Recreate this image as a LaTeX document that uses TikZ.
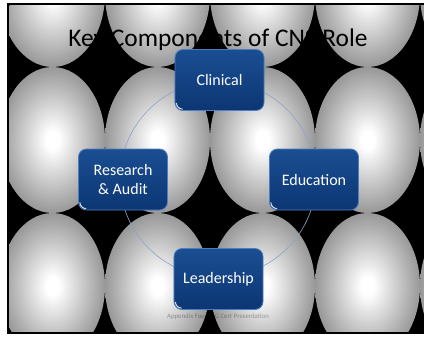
\documentclass[tikz,border=0pt]{standalone}
\usepackage{fontspec}
\setmainfont{Carlito}
\definecolor{sphgray}{HTML}{989898}
\definecolor{boxtop}{HTML}{1A4E92}
\definecolor{boxbot}{HTML}{0C3673}
\definecolor{boxedge}{HTML}{4E7DBD}
\definecolor{ringcol}{HTML}{8DA3C4}
\definecolor{footcol}{HTML}{AEAEAE}
\pgfdeclareradialshading{sphere}{\pgfpoint{0bp}{0bp}}{color(0bp)=(white); color(3bp)=(white); color(25bp)=(sphgray); color(50bp)=(sphgray)}
\tikzset{
  ball/.style={shading=sphere},
  compbox/.style={rectangle, rounded corners=8bp, minimum width=89bp, minimum height=61bp,
    top color=boxtop, bottom color=boxbot, draw=boxedge, line width=0.8bp,
    text=white, align=center, font=\fontsize{16bp}{18.5bp}\selectfont},
  ring/.style={draw=ringcol, line width=0.6bp},
  gloss/.style={draw=white!75!boxedge, line width=1bp},
}
\begin{document}
\begin{tikzpicture}[x=1bp,y=-1bp]
\useasboundingbox (0,0) rectangle (424,338);
\fill[white] (0,0) rectangle (424,338);
\fill[black] (7,3) rectangle (430,334);
\begin{scope}
  \clip (9.5,5.5) rectangle (424,331);
  \foreach \cx in {52.5,157.5,262.5,367.5,472.5}
    \foreach \cy in {-6,140,286}
      \shade[ball] (\cx,\cy) ellipse [x radius=52.5, y radius=73];
\end{scope}
\node[anchor=base, font=\fontsize{25.4bp}{30bp}\selectfont, text=black, inner sep=0] (title) at (218,46) {Key Components of CNS Role};
\begin{scope}[blend mode=multiply]
\node[text=footcol, font=\fontsize{6.8bp}{8bp}\selectfont, inner sep=0] (foot) at (218,317) {Appendix Four: PG Cert Presentation};
\end{scope}
\coordinate (hub) at (218,179);
\draw[ring] (hub) circle [radius=98];
\node[compbox] (clin) at (219.5,80) {Clinical};
\node[compbox] (res) at (123,179.5) {Research\\ \& Audit};
\node[compbox] (edu) at (314,179.5) {Education};
\node[compbox] (lead) at (218.5,279) {Leadership};
\foreach \b in {clin,res,edu,lead}
  \draw[gloss] ([xshift=1.8bp,yshift=8bp]\b.south west) arc [start angle=180, end angle=270, radius=6.2bp];
\end{tikzpicture}
\end{document}
